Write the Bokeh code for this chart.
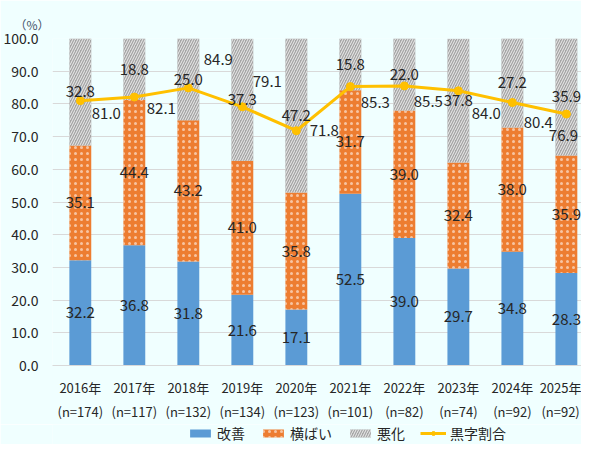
from bokeh.plotting import figure
from bokeh.layouts import column
from bokeh.models import ColumnDataSource, Range1d, FixedTicker, Legend, LegendItem, CustomJSTickFormatter
from bokeh.core.properties import value
from bokeh.embed import file_html
from bokeh.resources import INLINE

years = ["2016年", "2017年", "2018年", "2019年", "2020年", "2021年", "2022年", "2023年", "2024年", "2025年"]
counts = ["174", "117", "132", "134", "123", "101", "82", "74", "92", "92"]
kaizen = [32.2, 36.8, 31.8, 21.6, 17.1, 52.5, 39.0, 29.7, 34.8, 28.3]
yokobai = [35.1, 44.4, 43.2, 41.0, 35.8, 31.7, 39.0, 32.4, 38.0, 35.9]
akka = [32.8, 18.8, 25.0, 37.3, 47.2, 15.8, 22.0, 37.8, 27.2, 35.9]
kuroji = [81.0, 82.1, 84.9, 79.1, 71.8, 85.3, 85.5, 84.0, 80.4, 76.9]
series_names = ["改善", "横ばい", "悪化", "黒字割合"]

# line-label offsets in screen px (styling only)
lab_dx = [26, 27, 30, 25, 28, 25, 24, 28, 26, -3]
lab_dy = [13, 11, -28, -25, 0, 16, 16, 23, 20, 21]

idx = list(range(len(years)))
cat_labels = {i: f"{y}\n(n={n})" for i, y, n in zip(idx, years, counts)}
b1 = [0.0] * len(idx)
t1 = kaizen
b2 = t1
t2 = [a + b for a, b in zip(t1, yokobai)]
b3 = t2
t3 = [a + b for a, b in zip(t2, akka)]

src = ColumnDataSource(dict(
    x=idx, b1=b1, t1=t1, b2=b2, t2=t2, b3=b3, t3=t3,
    m1=[(a + b) / 2 for a, b in zip(b1, t1)],
    m2=[(a + b) / 2 for a, b in zip(b2, t2)],
    m3=[(a + b) / 2 for a, b in zip(b3, t3)],
    l1=[f"{v:.1f}" for v in kaizen],
    l2=[f"{v:.1f}" for v in yokobai],
    l3=[f"{v:.1f}" for v in akka],
    k=kuroji, lk=[f"{v:.1f}" for v in kuroji],
    dx=lab_dx, dy=lab_dy,
))

BG = "#F0FFFF"
FONT = "Noto Sans CJK JP"
BLUE, ORANGE, GRAY, GOLD = "#5B9BD5", "#ED7D31", "#A5A5A5", "#FFC000"
bar_style = [
    dict(fill_color=BLUE, line_color=None),
    dict(fill_color=ORANGE, line_color=None, hatch_pattern="dot", hatch_color="white",
         hatch_scale=6, hatch_weight=0.5, hatch_alpha=0.55),
    dict(fill_color=GRAY, line_color=None, hatch_pattern="right_diagonal_line",
         hatch_color="#EDEDED", hatch_scale=5, hatch_weight=1),
]
BW = 0.405

p = figure(x_range=Range1d(-0.515, 9.28), y_range=Range1d(0, 100), width=581, height=424,
           output_backend="svg", toolbar_location=None,
           background_fill_color=BG, border_fill_color=BG,
           min_border_left=49, min_border_right=0, min_border_top=38, min_border_bottom=58,
           title="（%）")
p.outline_line_color = None
p.title.text_font = FONT
p.title.text_font_size = "12px"
p.title.text_font_style = "normal"
p.title.text_color = "#44546A"
p.title.align = "left"
p.title.offset = -38
p.title.standoff = 12

r1 = p.vbar(x="x", bottom="b1", top="t1", width=BW, source=src, **bar_style[0])
r2 = p.vbar(x="x", bottom="b2", top="t2", width=BW, source=src, **bar_style[1])
r3 = p.vbar(x="x", bottom="b3", top="t3", width=BW, source=src, **bar_style[2])
rl = p.line(x="x", y="k", source=src, line_color=GOLD, line_width=3)
rm = p.scatter(x="x", y="k", source=src, size=8, fill_color=GOLD, line_color=GOLD)

for col, lab in (("m1", "l1"), ("m2", "l2"), ("m3", "l3")):
    p.text(x="x", y=col, text=lab, source=src, text_font=value(FONT), text_font_size="15px",
           text_color="#262626", text_align="center", text_baseline="middle")
p.text(x="x", y="k", text="lk", source=src, x_offset="dx", y_offset="dy",
       text_font=value(FONT), text_font_size="15px",
       text_color="#262626", text_align="center", text_baseline="middle")

p.yaxis.ticker = FixedTicker(ticks=list(range(0, 101, 10)))
p.yaxis.formatter = CustomJSTickFormatter(code="return tick.toFixed(1);")
p.yaxis.axis_line_color = None
p.yaxis.major_tick_line_color = None
p.yaxis.minor_tick_line_color = None
p.yaxis.major_label_text_font = FONT
p.yaxis.major_label_text_font_size = "14px"
p.yaxis.major_label_text_color = "#262626"
p.yaxis.major_label_standoff = 8

p.xaxis.ticker = FixedTicker(ticks=idx)
p.xaxis.major_label_overrides = cat_labels
p.xaxis.axis_line_color = "#D9D9D9"
p.xaxis.major_tick_line_color = None
p.xaxis.minor_tick_line_color = None
p.xaxis.major_label_text_font = FONT
p.xaxis.major_label_text_font_size = "13px"
p.xaxis.major_label_text_color = "#262626"
p.xaxis.major_label_text_line_height = 1.3
p.xaxis.major_label_standoff = 6

p.xgrid.grid_line_color = None
p.ygrid.grid_line_color = "#D9D9D9"

# legend strip below the chart (legend-only renderers, kept out of view)
lf = figure(width=581, height=20, x_range=(0, 1), y_range=(0, 1),
            output_backend="svg", toolbar_location=None,
            background_fill_color=BG, border_fill_color=BG, min_border=0)
lf.axis.visible = False
lf.grid.visible = False
lf.outline_line_color = None
e = ColumnDataSource(dict(x=[-5], y=[-5], t=[-5]))
g1 = lf.vbar(x="x", top="t", width=0.1, source=e, **bar_style[0])
g2 = lf.vbar(x="x", top="t", width=0.1, source=e, **bar_style[1])
g3 = lf.vbar(x="x", top="t", width=0.1, source=e, **bar_style[2])
g4 = lf.line(x="x", y="y", source=e, line_color=GOLD, line_width=3)
g5 = lf.scatter(x="x", y="y", source=e, size=8, fill_color=GOLD, line_color=GOLD)
legend = Legend(items=[
    LegendItem(label=series_names[0], renderers=[g1]),
    LegendItem(label=series_names[1], renderers=[g2]),
    LegendItem(label=series_names[2], renderers=[g3]),
    LegendItem(label=series_names[3], renderers=[g4, g5]),
], orientation="horizontal", location=(135, 1),
    background_fill_alpha=0, border_line_color=None,
    label_text_font=FONT, label_text_font_size="14px", label_text_color="#262626",
    glyph_width=26, glyph_height=10, spacing=15, padding=0, margin=0, label_standoff=4)
lf.add_layout(legend)

layout = column(p, lf, spacing=0)
open("out.html", "w").write(file_html(layout, INLINE))
